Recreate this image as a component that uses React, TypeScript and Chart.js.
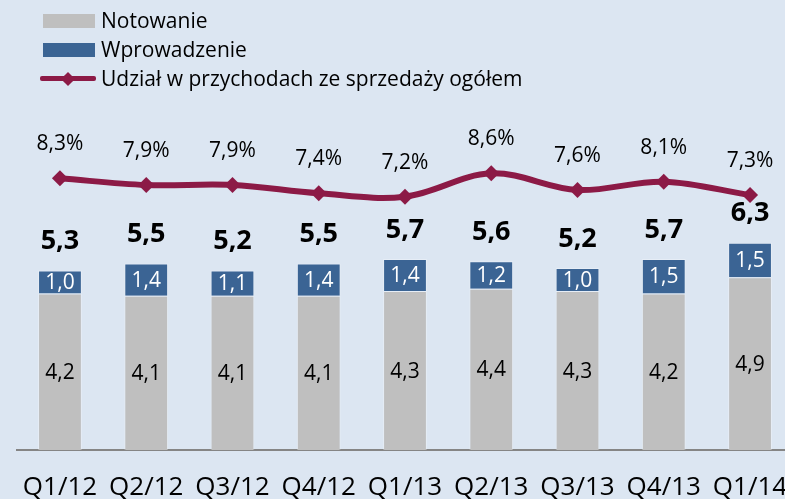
import React, { useEffect, useRef } from "react";
import { Chart, registerables } from "chart.js";

Chart.register(...registerables);

const categories = ["Q1/12", "Q2/12", "Q3/12", "Q4/12", "Q1/13", "Q2/13", "Q3/13", "Q4/13", "Q1/14"];
const notowanie = [4.2, 4.1, 4.1, 4.1, 4.3, 4.4, 4.3, 4.2, 4.9];
const wprowadzenie = [1.0, 1.4, 1.1, 1.4, 1.4, 1.2, 1.0, 1.5, 1.5];
const totals = [5.3, 5.5, 5.2, 5.5, 5.7, 5.6, 5.2, 5.7, 6.3];
const udzial = [8.3, 7.9, 7.9, 7.4, 7.2, 8.6, 7.6, 8.1, 7.3];
const seriesNames = ["Notowanie", "Wprowadzenie", "Udział w przychodach ze sprzedaży ogółem"];

const GRAY = "#bfbfbf";
const BLUE = "#3b6494";
const MAROON = "#8c1a46";
const BG = "#dce6f2";
const FONT = '"Open Sans", sans-serif';

const fmt = (v: number) => v.toFixed(1).replace(".", ",");

const labelsPlugin = {
  id: "valueLabels",
  afterDatasetsDraw(chart: any) {
    const ctx = chart.ctx;
    ctx.save();
    ctx.textAlign = "center";
    ctx.textBaseline = "middle";
    const m0 = chart.getDatasetMeta(0);
    const m1 = chart.getDatasetMeta(1);
    const m2 = chart.getDatasetMeta(2);
    m0.data.forEach((el: any, i: number) => {
      const p = el.getProps(["x", "y", "base"], true);
      ctx.font = `21px ${FONT}`;
      ctx.fillStyle = "#000";
      ctx.fillText(fmt(notowanie[i]), p.x, (p.y + p.base) / 2 + 1);
    });
    m1.data.forEach((el: any, i: number) => {
      const p = el.getProps(["x", "y", "base"], true);
      ctx.font = `21px ${FONT}`;
      ctx.fillStyle = "#fff";
      ctx.fillText(fmt(wprowadzenie[i]), p.x, (p.y + p.base) / 2 + 1);
      ctx.font = `bold 27px ${FONT}`;
      ctx.fillStyle = "#000";
      ctx.fillText(fmt(totals[i]), p.x, p.y - 29);
    });
    m2.data.forEach((el: any, i: number) => {
      const p = el.getProps(["x", "y"], true);
      ctx.font = `21px ${FONT}`;
      ctx.fillStyle = "#000";
      ctx.fillText(fmt(udzial[i]) + "%", p.x, p.y - 34);
    });
    ctx.restore();
  },
};

function LegendRow({ kind, color, text }: { kind: string; color: string; text: string }) {
  return (
    <div style={{ display: "flex", alignItems: "center", height: 29 }}>
      <div style={{ position: "relative", width: 56, height: 29 }}>
        {kind === "box" ? (
          <div style={{ position: "absolute", left: 3, top: 8, width: 52, height: 13.5, background: color }} />
        ) : (
          <>
            <div style={{ position: "absolute", left: 0, top: 12, width: 56, height: 5, background: color, borderRadius: 2 }} />
            <div
              style={{
                position: "absolute",
                left: 23,
                top: 9.5,
                width: 10,
                height: 10,
                background: color,
                transform: "rotate(45deg)",
              }}
            />
          </>
        )}
      </div>
      <span style={{ marginLeft: 5, color: "#000", whiteSpace: "nowrap" }}>{text}</span>
    </div>
  );
}

export default function App() {
  const canvasRef = useRef<HTMLCanvasElement | null>(null);

  useEffect(() => {
    if (!canvasRef.current) return;
    const chart = new Chart(canvasRef.current, {
      type: "bar",
      data: {
        labels: categories,
        datasets: [
          {
            type: "bar",
            label: seriesNames[0],
            data: notowanie,
            backgroundColor: GRAY,
            borderColor: "rgba(255,255,255,0.3)",
            borderWidth: 1,
            base: -2.6,
            yAxisID: "y",
            order: 1,
            categoryPercentage: 1,
            barPercentage: 0.508,
          } as any,
          {
            type: "bar",
            label: seriesNames[1],
            data: wprowadzenie,
            backgroundColor: BLUE,
            borderColor: "rgba(255,255,255,0.3)",
            borderWidth: 1,
            yAxisID: "y",
            order: 1,
            categoryPercentage: 1,
            barPercentage: 0.508,
          } as any,
          {
            type: "line",
            label: seriesNames[2],
            data: udzial,
            borderColor: MAROON,
            backgroundColor: MAROON,
            borderWidth: 6,
            pointStyle: "rectRot",
            pointRadius: 8,
            pointBorderWidth: 0,
            pointBackgroundColor: MAROON,
            tension: 0.35,
            yAxisID: "y2",
            order: 0,
          } as any,
        ],
      },
      options: {
        responsive: false,
        animation: false,
        devicePixelRatio: 1,
        layout: { padding: { left: 14.2, right: 16.8, top: 100, bottom: 0 } },
        plugins: {
          legend: { display: false },
          tooltip: { enabled: false },
          title: { display: false },
        },
        scales: {
          x: {
            stacked: true,
            grid: { display: false, drawTicks: false },
            border: { display: true, color: "#858585", width: 2 },
            ticks: {
              font: { family: FONT, size: 26 },
              color: "#000",
              padding: 22,
              autoSkip: false,
              maxRotation: 0,
            },
            afterFit: (s: any) => {
              s.height = 49;
            },
          },
          y: { stacked: true, display: false, min: -2.6, max: 12.6 },
          y2: { display: false, min: -8, max: 13, position: "right" },
        },
      } as any,
      plugins: [labelsPlugin],
    });
    return () => chart.destroy();
  }, []);

  return (
    <div
      style={{
        position: "fixed",
        left: 0,
        top: 0,
        width: 785,
        height: 499,
        overflow: "hidden",
        background: BG,
        fontFamily: FONT,
      }}
    >
      <canvas
        ref={canvasRef}
        width={810}
        height={499}
        style={{ position: "absolute", left: 0, top: 0, width: 810, height: 499 }}
      />
      <div style={{ position: "absolute", left: 40, top: 6, fontSize: 21, lineHeight: "29px" }}>
        <LegendRow kind="box" color={GRAY} text={seriesNames[0]} />
        <LegendRow kind="box" color={BLUE} text={seriesNames[1]} />
        <LegendRow kind="line" color={MAROON} text={seriesNames[2]} />
      </div>
    </div>
  );
}
